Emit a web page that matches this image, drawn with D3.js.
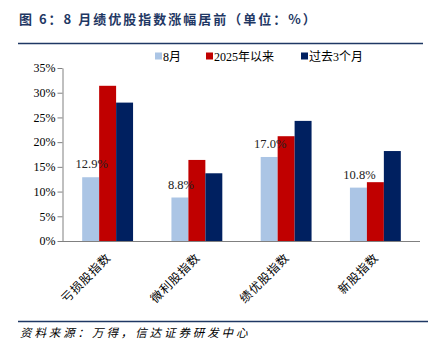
<!DOCTYPE html>
<html><head><meta charset="utf-8">
<script src="https://cdn.jsdelivr.net/npm/d3@7"></script>
<style>
body{margin:0;background:#fff;}
svg{display:block;}
</style></head>
<body><div id="chart"></div>
<script>
const categories = ["亏损股指数", "微利股指数", "绩优股指数", "新股指数"];
const seriesNames = ["8月", "2025年以来", "过去3个月"];
const augValues = [12.9, 8.8, 17.0, 10.8];
const ytdValues = [31.4, 16.4, 21.2, 11.9];
const last3mValues = [28.0, 13.7, 24.3, 18.2];
const yTicks = [0, 5, 10, 15, 20, 25, 30, 35];
const colors = ["#ABC5E5", "#C00000", "#002060"];
const title = "图 6：8 月绩优股指数涨幅居前（单位：%）";
const source = "资料来源：万得，信达证券研发中心";

const W = 437, H = 356;
const svg = d3.select("#chart").append("svg").attr("width", W).attr("height", H);
const serif = "'Liberation Serif','Times New Roman',serif";
const cjk = "'Noto Sans CJK SC','Noto Sans',sans-serif";
const cjkSerif = "'Liberation Serif','Noto Sans CJK SC',serif";

// title
svg.append("text").attr("x", 19).attr("y", 24).text(title)
  .attr("font-family", cjk).attr("font-size", 13).attr("font-weight", "bold")
  .attr("fill", "#1F3864").attr("letter-spacing", 2);
svg.append("line").attr("x1", 18).attr("x2", 423).attr("y1", 43.5).attr("y2", 43.5)
  .attr("stroke", "#1F3864").attr("stroke-width", 1.5);

const x0 = d3.scaleBand().domain(categories).range([63, 420]).paddingInner(0.43).paddingOuter(0.215);
const x1 = d3.scaleBand().domain(seriesNames).range([0, x0.bandwidth()]);
const y = d3.scaleLinear().domain([0, 35]).range([241, 68]);

const data = categories.map((c, i) => ({cat: c, vals: [augValues[i], ytdValues[i], last3mValues[i]]}));

// y axis
const yAxis = d3.axisLeft(y).tickValues(yTicks).tickFormat(d => d + "%").tickSize(5).tickSizeOuter(0);
const gy = svg.append("g").attr("transform", "translate(62.5,0)").call(yAxis);
gy.select(".domain").attr("stroke", "#808080");
gy.selectAll(".tick line").attr("stroke", "#808080");
gy.selectAll(".tick text").attr("font-family", serif).attr("font-size", 12).attr("fill", "#000").attr("x", -7);

// bars
const groups = svg.append("g").selectAll("g").data(data).join("g")
  .attr("transform", d => `translate(${x0(d.cat)},0)`);
groups.selectAll("rect").data(d => d.vals.map((v, j) => ({v, s: seriesNames[j], j})))
  .join("rect")
  .attr("x", d => x1(d.s))
  .attr("width", x1.bandwidth())
  .attr("y", d => y(d.v))
  .attr("height", d => y(0) - y(d.v))
  .attr("fill", d => colors[d.j]);

// labels for Aug series
groups.append("text")
  .attr("x", x1(seriesNames[0]) + x1.bandwidth() / 2 + 1)
  .attr("y", d => y(d.vals[0]) - 9)
  .attr("text-anchor", "middle")
  .attr("font-family", serif).attr("font-size", 12.5).attr("fill", "#222")
  .text(d => d.vals[0].toFixed(1) + "%");

// x axis
const xAxis = d3.axisBottom(x0).tickSize(0).tickSizeOuter(0);
const gx = svg.append("g").attr("transform", "translate(0,241.5)").call(xAxis);
gx.select(".domain").attr("stroke", "#808080").attr("d", "M62,0H420");
gx.selectAll(".tick text").attr("font-family", cjk).attr("font-size", 12).attr("fill", "#000")
  .attr("text-anchor", "end").attr("dy", 0).attr("y", 0).attr("letter-spacing", 0.8)
  .attr("transform", "translate(4,17) rotate(-45)");

// legend
const legX = [155, 206, 301];
const leg = svg.append("g").selectAll("g").data(seriesNames).join("g")
  .attr("transform", (d, i) => `translate(${legX[i]},56)`);
leg.append("rect").attr("x", 0).attr("y", -3.5).attr("width", 7).attr("height", 7).attr("fill", (d, i) => colors[i]);
leg.append("text").attr("x", 8).attr("y", 4.5).text(d => d)
  .attr("font-family", cjkSerif).attr("font-size", 12).attr("fill", "#000");

// bottom line and source
svg.append("line").attr("x1", 18).attr("x2", 428).attr("y1", 321.5).attr("y2", 321.5)
  .attr("stroke", "#1F3864").attr("stroke-width", 1.5);
svg.append("text").attr("x", 20).attr("y", 337).text(source)
  .attr("font-family", cjk).attr("font-size", 11.5).attr("font-style", "italic")
  .attr("fill", "#000").attr("letter-spacing", 2.9);
</script></body></html>
